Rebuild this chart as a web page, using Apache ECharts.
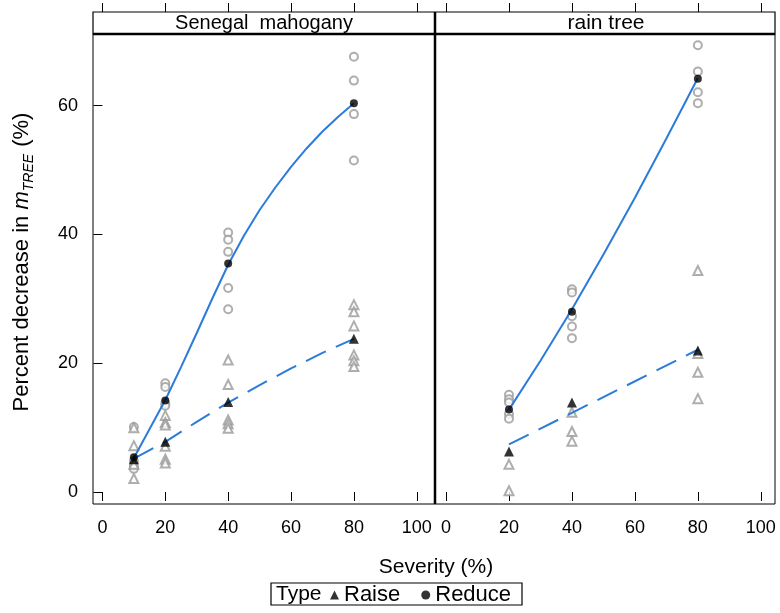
<!DOCTYPE html>
<html><head><meta charset="utf-8">
<script src="https://cdn.jsdelivr.net/npm/echarts@6/dist/echarts.min.js"></script>
<style>html,body{margin:0;padding:0;background:#fff}#c{width:780px;height:613px}</style>
</head><body><div id="c"></div>
<script>
// ---- data ----
const panels = ["Senegal  mahogany", "rain tree"];
const xTicks = [0, 20, 40, 60, 80, 100];
const yTicks = [0, 20, 40, 60];

// Senegal mahogany: individual observations [severity, value]
const smReduceObs = [[10,10.1],[10,4.8],[10,4.0],[10,3.6],
  [20,16.9],[20,16.3],[20,13.8],[20,13.4],
  [40,40.3],[40,39.2],[40,37.3],[40,31.7],[40,28.4],
  [80,67.6],[80,63.9],[80,58.7],[80,51.5]];
const smRaiseObs = [[10,10.0],[10,7.2],[10,4.3],[10,2.1],
  [20,11.9],[20,10.8],[20,10.4],[20,7.1],[20,5.1],[20,4.5],
  [40,20.5],[40,16.7],[40,11.2],[40,10.6],[40,9.9],
  [80,29.1],[80,28.0],[80,25.8],[80,21.3],[80,20.4],[80,19.5]];
const smReduceMean = [[10,5.4],[20,14.2],[40,35.5],[80,60.4]];
const smRaiseMean  = [[10,5.1],[20,7.8],[40,14.0],[80,23.8]];
// fitted curves
const smReduceFit  = [[10,5.3],[15,9.8],[20,14.3],[25,19.4],[30,24.7],[35,30.1],[40,35.3],
  [45,39.8],[50,43.8],[55,47.3],[60,50.5],[65,53.4],[70,56.0],[75,58.3],[80,60.4]];
const smRaiseFit   = [[10,5.2],[20,7.8],[30,10.9],[40,13.9],[50,16.6],[60,19.2],[70,21.6],[80,23.8]];

// rain tree
const rtReduceObs = [[20,15.1],[20,14.4],[20,13.9],[20,12.1],[20,11.4],
  [40,31.5],[40,31.0],[40,27.3],[40,25.7],[40,23.9],
  [80,69.4],[80,65.3],[80,62.1],[80,60.4]];
const rtRaiseObs = [[20,4.3],[20,0.2],
  [40,12.4],[40,9.4],[40,7.9],
  [80,34.4],[80,21.5],[80,18.6],[80,14.5]];
const rtReduceMean = [[20,12.8],[40,28.0],[80,64.2]];
const rtRaiseMean  = [[20,6.3],[40,13.9],[80,22.0]];
const rtReduceFit  = [[20,12.8],[30,20.4],[40,28.4],[50,36.9],[60,45.7],[70,54.9],[80,64.3]];
const rtRaiseFit   = [[20,7.4],[80,22.1]];

// ---- chart ----
const FONT = "Liberation Sans";
const BLUE = "#2b7bdb";
const GREY = "#9a9a9a";
const chart = echarts.init(document.getElementById('c'), null, {renderer:'canvas'});

const grids = [
  {left:93, top:34, width:342, height:470, show:true, borderColor:'#000', borderWidth:1},
  {left:435, top:34, width:340, height:470, show:true, borderColor:'#000', borderWidth:1}
];
const xr = [[-3.0,105.8],[-3.5,104.5]];
const xAxes = [], yAxes = [];
for (let i=0;i<2;i++){
  xAxes.push({type:'value', gridIndex:i, min:xr[i][0], max:xr[i][1], position:'bottom',
    axisLine:{show:false}, splitLine:{show:false},
    axisTick:{show:true, length:9, inside:false, customValues:xTicks, lineStyle:{color:'#000'}},
    axisLabel:{show:true, customValues:xTicks, margin:15, fontFamily:FONT, fontSize:18, color:'#000'}});
  xAxes.push({type:'value', gridIndex:i, min:xr[i][0], max:xr[i][1], position:'top', offset:22,
    axisLine:{show:false}, splitLine:{show:false},
    axisTick:{show:true, length:9, customValues:xTicks, lineStyle:{color:'#000'}},
    axisLabel:{show:false}});
  yAxes.push({type:'value', gridIndex:i, min:-1.86, max:71.14, position:'left',
    axisLine:{show:false}, splitLine:{show:false},
    axisTick:{show:i===0, length:9, customValues:yTicks, lineStyle:{color:'#000'}},
    axisLabel:{show:i===0, customValues:yTicks, margin:15, fontFamily:FONT, fontSize:18, color:'#000'}});
}

function obs(name, data, sym, gi){
  return {name:name, type:'scatter', xAxisIndex:gi*2, yAxisIndex:gi, data:data, symbol:sym,
    symbolSize: sym==='emptyTriangle'?9:8, z:2, silent:true,
    itemStyle:{color:GREY, borderColor:GREY, borderWidth:1}};
}
function mean(name, data, sym, gi){
  return {name:name, type:'scatter', xAxisIndex:gi*2, yAxisIndex:gi, data:data, symbol:sym,
    symbolSize: sym==='triangle'?10:8, z:4, silent:true, itemStyle:{color:'#000'}};
}
function fit(name, data, dashed, gi){
  return {name:name, type:'line', xAxisIndex:gi*2, yAxisIndex:gi, data:data, showSymbol:false,
    smooth:false, z:3, silent:true,
    lineStyle:{color:BLUE, width:2, type: dashed?[22,11]:'solid'}};
}

const series = [
  obs('smRO', smReduceObs, 'emptyCircle', 0),
  obs('smAO', smRaiseObs, 'emptyTriangle', 0),
  fit('smRF', smReduceFit, false, 0),
  fit('smAF', smRaiseFit, true, 0),
  mean('Reduce', smReduceMean, 'circle', 0),
  mean('Raise', smRaiseMean, 'triangle', 0),
  obs('rtRO', rtReduceObs, 'emptyCircle', 1),
  obs('rtAO', rtRaiseObs, 'emptyTriangle', 1),
  fit('rtRF', rtReduceFit, false, 1),
  fit('rtAF', rtRaiseFit, true, 1),
  mean('Reduce', rtReduceMean, 'circle', 1),
  mean('Raise', rtRaiseMean, 'triangle', 1)
];

const graphics = [
  // strips
  {type:'rect', shape:{x:93, y:12, width:682, height:22}, style:{fill:'#fff', stroke:'#000', lineWidth:1.2}, z:1},
  {type:'text', x:264, y:23, style:{text:panels[0], font:'20px "'+FONT+'"', fill:'#000', textAlign:'center', textVerticalAlign:'middle'}, z:5},
  {type:'text', x:606, y:23, style:{text:panels[1], font:'21px "'+FONT+'"', fill:'#000', textAlign:'center', textVerticalAlign:'middle'}, z:5},
  {type:'line', shape:{x1:93, y1:34, x2:775, y2:34}, style:{stroke:'#000', lineWidth:2.5}, z:10},
  {type:'line', shape:{x1:435, y1:12, x2:435, y2:504}, style:{stroke:'#000', lineWidth:2.5}, z:10},
  // axis titles
  {type:'text', x:436, y:567, style:{text:'Severity (%)', font:'21px "'+FONT+'"', fill:'#000', textAlign:'center', textVerticalAlign:'middle'}},
  {type:'text', x:22, y:262, rotation:Math.PI/2,
    style:{text:'{n|Percent decrease in }{m|m}{s|TREE}{n| (%)}', fill:'#000', align:'center', verticalAlign:'middle',
      rich:{n:{fontFamily:FONT, fontSize:22, lineHeight:28, verticalAlign:'middle'},
            m:{fontFamily:FONT, fontSize:22, fontStyle:'italic', lineHeight:28, verticalAlign:'middle'},
            s:{fontFamily:FONT, fontSize:14, fontStyle:'italic', lineHeight:15, verticalAlign:'bottom', padding:[9,1,0,0]}}}},
  // legend box and title
  {type:'rect', shape:{x:271, y:583, width:251, height:22}, style:{fill:'none', stroke:'#000', lineWidth:1.2}},
  {type:'text', x:276, y:594, style:{text:'Type', font:'21px "'+FONT+'"', fill:'#000', textAlign:'left', textVerticalAlign:'middle'}}
];

chart.setOption({
  animation:false,
  backgroundColor:'#fff',
  grid:grids, xAxis:xAxes, yAxis:yAxes, series:series, graphic:graphics,
  legend:{data:[{name:'Raise', icon:'triangle'},{name:'Reduce', icon:'circle'}],
    left:330, top:584, itemWidth:9, itemHeight:9, itemGap:21, padding:0, selectedMode:false,
    textStyle:{fontFamily:FONT, fontSize:22, color:'#000'},
    itemStyle:{color:'#000'}}
});
</script></body></html>
